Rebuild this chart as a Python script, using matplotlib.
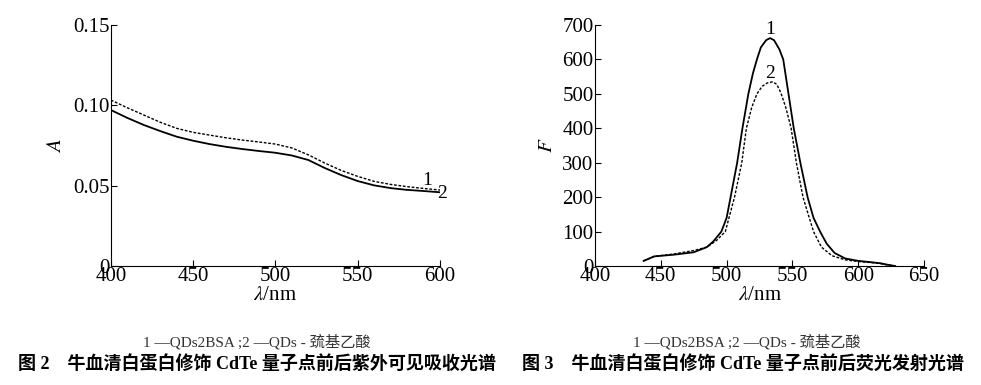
import matplotlib
matplotlib.use('Agg')
import matplotlib.pyplot as plt

plt.rcParams['font.family'] = ['Liberation Serif', 'Noto Sans CJK SC', 'DejaVu Sans']
plt.rcParams['mathtext.fontset'] = 'stix'

#### data ####
# Fig 2: UV-vis absorption
uv_wl = [400, 410, 420, 430, 440, 450, 460, 470, 480, 490, 500, 510, 520, 530, 540, 550, 560, 570, 580, 590, 600]
uv_qds_bsa = [0.1033, 0.0985, 0.0940, 0.0895, 0.0857, 0.0832, 0.0815, 0.0798, 0.0784, 0.0772, 0.0759, 0.0735, 0.0692,
              0.0641, 0.0595, 0.0558, 0.0527, 0.0508, 0.0494, 0.0483, 0.0473]
uv_qds_tga = [0.0971, 0.0922, 0.0878, 0.0840, 0.0805, 0.0780, 0.0759, 0.0742, 0.0728, 0.0716, 0.0705, 0.0688, 0.0660,
              0.0610, 0.0566, 0.0529, 0.0502, 0.0485, 0.0474, 0.0467, 0.0459]

# Fig 3: fluorescence emission
fl_wl1 = [437, 445, 460, 475, 485, 490, 496, 500, 503, 508, 512, 516.5, 520, 523, 526, 530, 533, 536, 540, 543,
          547, 551, 556, 561.5, 566, 571, 576, 582, 590, 600, 610, 617, 622, 628]
fl_qds_bsa = [15, 28, 33, 40, 55, 72, 100, 140, 200, 300, 400, 500, 560, 600, 635, 656, 662, 656, 630, 600,
              500, 400, 300, 200, 140, 100, 65, 38, 22, 15, 11, 8, 4, 0]
fl_wl2 = [437, 445, 460, 475, 485, 492.5, 499, 506, 511.5, 515, 519, 523, 527, 531, 535, 538, 541, 545, 549, 553,
          558, 566, 572, 580, 590, 600, 610, 617, 622, 628]
fl_qds_tga = [15, 28, 35, 45, 55, 75, 100, 200, 300, 400, 460, 500, 522, 532, 535, 528, 505, 460, 400, 300,
              200, 100, 55, 30, 18, 13, 10, 7, 3, 0]

fig = plt.figure(figsize=(9.81, 3.85), dpi=100)
ax1 = fig.add_axes([0.113, 0.309, 0.3355, 0.626])
ax2 = fig.add_axes([0.6065, 0.309, 0.3355, 0.626])

fs = 15
for ax in (ax1, ax2):
    ax.spines['top'].set_visible(False)
    ax.spines['right'].set_visible(False)
    ax.tick_params(direction='in', length=4, width=0.8, labelsize=fs, pad=1)
    ax.set_xlabel(r'$\lambda$/nm', fontsize=fs, labelpad=0)

ax1.plot(uv_wl, uv_qds_bsa, color='black', lw=1.0, ls=(0, (2, 1.2)))
ax1.plot(uv_wl, uv_qds_tga, color='black', lw=1.3)
ax1.set_xlim(400, 600)
ax1.set_ylim(0, 0.15)
ax1.set_xticks([400, 450, 500, 550, 600])
ax1.set_yticks([0, 0.05, 0.10, 0.15])
ax1.set_yticklabels(['0', '0.05', '0.10', '0.15'])
ax1.set_ylabel(r'$A$', fontsize=fs, labelpad=5)
ax1.text(589, 0.0505, '1', fontsize=fs - 1)
ax1.text(598, 0.0425, '2', fontsize=fs - 1)

ax2.plot(fl_wl1, fl_qds_bsa, color='black', lw=1.3)
ax2.plot(fl_wl2, fl_qds_tga, color='black', lw=1.0, ls=(0, (2, 1.2)))
ax2.set_xlim(400, 650)
ax2.set_ylim(0, 700)
ax2.set_xticks([400, 450, 500, 550, 600, 650])
ax2.set_yticks([0, 100, 200, 300, 400, 500, 600, 700])
ax2.set_ylabel(r'$F$', fontsize=fs, labelpad=4)
ax2.text(533, 675, '1', fontsize=fs - 1, ha='center')
ax2.text(533, 545, '2', fontsize=fs - 1, ha='center')

legend_txt = '1 —QDs2BSA ;2 —QDs - 巯基乙酸'
fig.text(0.262, 1 - 342 / 385, legend_txt, fontsize=11, ha='center', va='center', color='#333333')
fig.text(0.761, 1 - 342 / 385, legend_txt, fontsize=11, ha='center', va='center', color='#333333')
fig.text(0.262, 1 - 364 / 385, '图 2　牛血清白蛋白修饰 CdTe 量子点前后紫外可见吸收光谱',
         fontsize=13, ha='center', va='center', weight='bold')
fig.text(0.757, 1 - 364 / 385, '图 3　牛血清白蛋白修饰 CdTe 量子点前后荧光发射光谱',
         fontsize=13, ha='center', va='center', weight='bold')

fig.savefig('out.png', dpi=100)
